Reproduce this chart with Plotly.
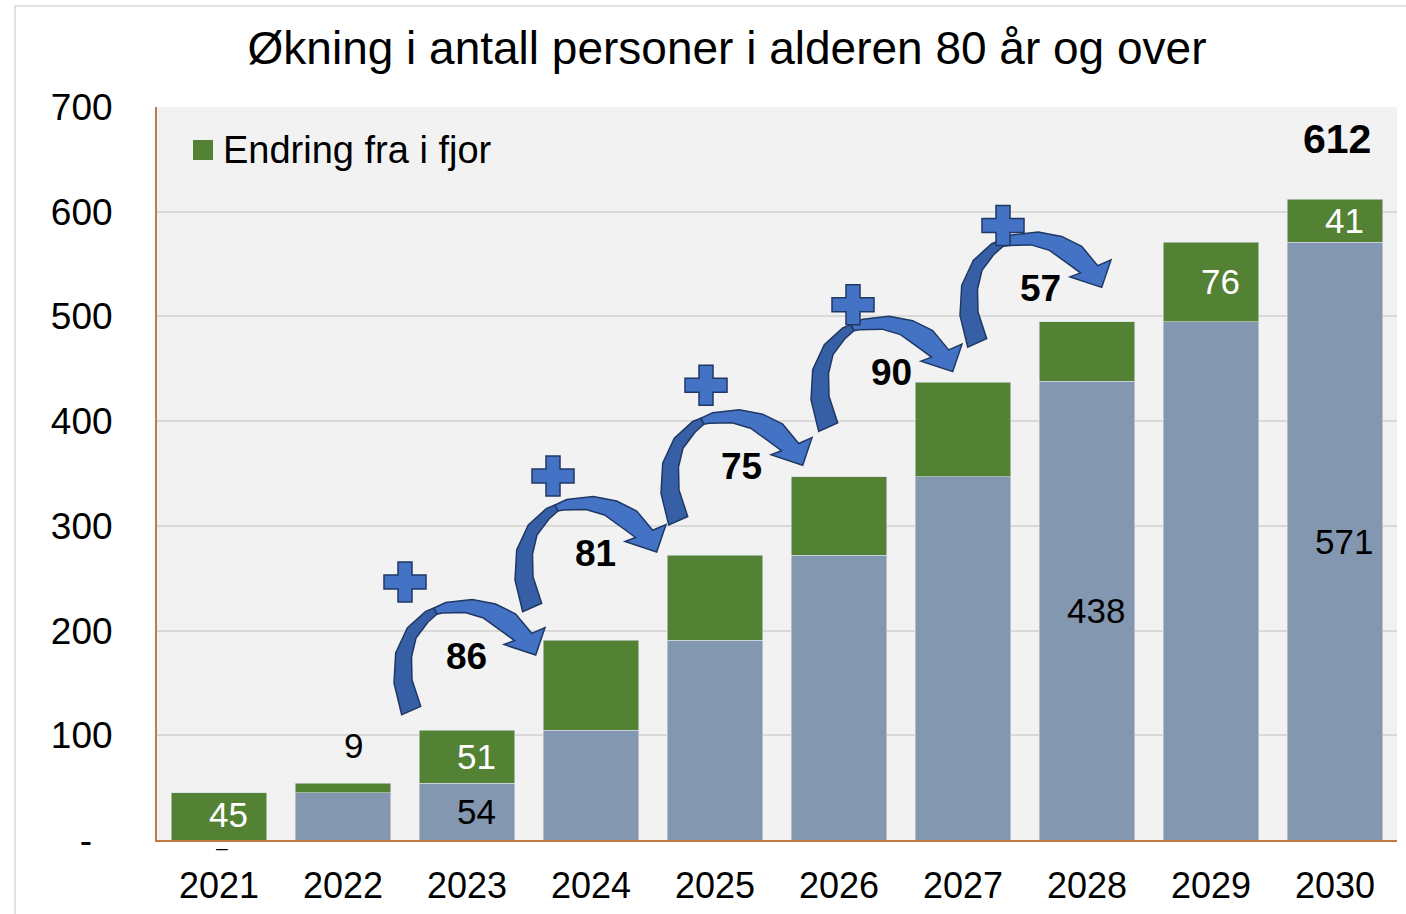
import plotly.graph_objects as go

# ---------------- data ----------------
YEARS = ["2021", "2022", "2023", "2024", "2025", "2026", "2027", "2028", "2029", "2030"]
BASE = [0, 45, 54, 105, 191, 272, 347, 438, 495, 571]      # antall året før
CHANGE = [45, 9, 51, 86, 81, 75, 90, 57, 76, 41]            # endring fra i fjor
Y_TICKS = [0, 100, 200, 300, 400, 500, 600, 700]

# which labels are visible in the original
BASE_LABEL_YEARS = ["2021", "2023", "2028", "2030"]
CHANGE_LABEL_INSIDE = ["2021", "2023", "2029", "2030"]
CHANGE_LABEL_ABOVE = ["2022"]
ARROW_TARGETS = ["2024", "2025", "2026", "2027", "2028"]
TOTAL_LABEL_YEAR = "2030"

# ---------------- styles ----------------
FONT = "Liberation Sans, Arial, sans-serif"
GREEN = "#548235"
BLUEGRAY = "#8497B0"
AXIS_BROWN = "#C07A48"
ARROW_LIGHT = "#4472C4"
ARROW_DARK = "#375FA6"
ARROW_EDGE = "#1F3864"

# label offsets (px) of each arrow group relative to its source bar top
LABEL_NUDGE = [(-1, 74), (4, 87), (26, 89), (52, 104), (77, 94)]
PLUS_NUDGE = [(-61, 74), (-42, 77), (-35, 81), (-38, 68), (-37, 63)]
ARROW_SHIFT = [(8, 0), (0, 0), (0, 0), (0, 0), (0, 0)]

# arrow outline template (px, relative to label centre, y down)
ARROW_DARK_PTS = [(-72.3, 58.7), (-80, 27), (-78.3, -3), (-66.7, -28), (-48.3, -44.7), (-40, -48),
                  (-37, -42), (-46, -34), (-58, -18), (-62.5, 1), (-62, 23.7), (-53.3, 50.3)]
ARROW_LIGHT_PTS = [(-40, -48), (-28.3, -53.5), (-1.7, -56.5), (21.7, -52), (41.7, -42), (57.7, -22.7),
                   (71, -28.5), (61.7, -1), (30, -11.5), (40.5, -15.5), (25.5, -26.5), (9.5, -38),
                   (-9, -43.5), (-31.7, -43), (-37, -42)]
PLUS_PTS = [(-7, 20), (7, 20), (7, 7), (21, 7), (21, -7), (7, -7), (7, -20), (-7, -20),
            (-7, -7), (-21, -7), (-21, 7), (-7, 7)]

idx = list(range(len(YEARS)))
TOTAL = [b + c for b, c in zip(BASE, CHANGE)]

fig = go.Figure()
fig.add_bar(x=idx, y=BASE, name="Antall", marker=dict(color=BLUEGRAY, line=dict(width=0.6, color="#D6DCE4")),
            width=0.77, showlegend=False)
fig.add_bar(x=idx, y=CHANGE, name="Endring fra i fjor", marker=dict(color=GREEN, line=dict(width=0.6, color="#D6DCE4")),
            width=0.77, showlegend=False)

annotations = []
shapes = []

LBL = 35

# data labels
for i, yr in enumerate(YEARS):
    if yr in BASE_LABEL_YEARS:
        if BASE[i] == 0:
            annotations.append(dict(x=i, y=0, text="\u2013", showarrow=False, xshift=3, yshift=-7,
                                    font=dict(size=21, color="black", family=FONT)))
        else:
            annotations.append(dict(x=i, y=BASE[i] / 2, text=str(BASE[i]), showarrow=False, xshift=9,
                                    font=dict(size=LBL, color="black", family=FONT)))
    if yr in CHANGE_LABEL_INSIDE:
        annotations.append(dict(x=i, y=BASE[i] + CHANGE[i] / 2, text=str(CHANGE[i]), showarrow=False, xshift=9,
                                yshift=2 if BASE[i] == 0 else 0,
                                font=dict(size=LBL, color="white", family=FONT)))
    if yr in CHANGE_LABEL_ABOVE:
        annotations.append(dict(x=i, y=TOTAL[i], text=str(CHANGE[i]), showarrow=False, xshift=10, yshift=38,
                                font=dict(size=LBL, color="black", family=FONT)))
    if yr == TOTAL_LABEL_YEAR:
        annotations.append(dict(x=i, y=TOTAL[i], text="<b>%d</b>" % TOTAL[i], showarrow=False, xshift=2, yshift=60,
                                font=dict(size=41, color="black", family=FONT)))


def path_from(pts, dx, dy):
    return "M " + " L ".join("%.1f,%.1f" % (dx + x, dy - y) for x, y in pts) + " Z"


# curved arrows with plus signs and change labels
for k, yr in enumerate(ARROW_TARGETS):
    t = YEARS.index(yr)
    s = t - 1
    lx, ly = LABEL_NUDGE[k]          # label centre, px right / px up of source bar top
    ax_, ay_ = ARROW_SHIFT[k]
    px_, py_ = PLUS_NUDGE[k]
    common = dict(type="path", xref="x", yref="y", xsizemode="pixel", ysizemode="pixel",
                  xanchor=s, yanchor=TOTAL[s], layer="above")
    shapes.append(dict(path=path_from(ARROW_DARK_PTS, lx + ax_, ly + ay_), fillcolor=ARROW_DARK,
                       line=dict(color=ARROW_EDGE, width=1.5), **common))
    shapes.append(dict(path=path_from(ARROW_LIGHT_PTS, lx + ax_, ly + ay_), fillcolor=ARROW_LIGHT,
                       line=dict(color=ARROW_EDGE, width=1.5), **common))
    shapes.append(dict(path=path_from(PLUS_PTS, lx + px_, ly + py_), fillcolor=ARROW_LIGHT,
                       line=dict(color=ARROW_EDGE, width=1.5), **common))
    annotations.append(dict(x=s, y=TOTAL[s], text="<b>%d</b>" % CHANGE[t], showarrow=False,
                            xshift=lx, yshift=ly, font=dict(size=37, color="black", family=FONT)))

# custom legend
L, R, T, B = 157, 1397, 107, 840


def px2paper_x(p):
    return (p - L) / (R - L)


def px2paper_y(p):
    return (B - p) / (B - T)


shapes.append(dict(type="rect", xref="paper", yref="paper",
                   x0=px2paper_x(193), x1=px2paper_x(213), y0=px2paper_y(160), y1=px2paper_y(140),
                   fillcolor=GREEN, line=dict(width=0)))
annotations.append(dict(xref="paper", yref="paper", x=px2paper_x(221), y=px2paper_y(150),
                        xanchor="left", yanchor="middle", text="Endring fra i fjor", showarrow=False,
                        font=dict(size=38, color="black", family=FONT)))

# outer chart border
shapes.append(dict(type="rect", xref="paper", yref="paper", layer="below",
                   x0=px2paper_x(15), x1=px2paper_x(1420), y0=px2paper_y(930), y1=px2paper_y(6),
                   line=dict(color="#D9D9D9", width=1.5), fillcolor="rgba(0,0,0,0)"))

fig.update_layout(
    width=1406, height=914,
    margin=dict(l=L, r=1406 - R, t=T, b=914 - B, autoexpand=False),
    paper_bgcolor="white", plot_bgcolor="#F2F2F2",
    barmode="stack", bargap=0.23,
    title=dict(text="Økning i antall personer i alderen 80 år og over", x=727 / 1406, xanchor="center",
               y=1 - 48 / 914, yanchor="middle", font=dict(size=46, color="black", family=FONT)),
    xaxis=dict(tickvals=idx, ticktext=YEARS, range=[-0.5, len(YEARS) - 0.5], showgrid=False,
               showline=True, linecolor=AXIS_BROWN, linewidth=2, ticks="", ticklabelstandoff=13,
               tickfont=dict(size=36, color="black", family=FONT), zeroline=False, automargin=False),
    yaxis=dict(range=[0, 700], tickvals=Y_TICKS,
               ticktext=["-\u00a0\u00a0"] + [str(v) for v in Y_TICKS[1:]],
               showgrid=True, gridcolor="#D9D9D9", gridwidth=1.5, showline=True, linecolor=AXIS_BROWN,
               linewidth=2, ticks="", ticklabelstandoff=35, zeroline=False, automargin=False,
               tickfont=dict(size=37, color="black", family=FONT)),
    annotations=annotations,
    shapes=shapes,
    showlegend=False,
)

fig.write_html("out.html", post_script="document.body.style.margin='0px';",
               config={"displayModeBar": False})
